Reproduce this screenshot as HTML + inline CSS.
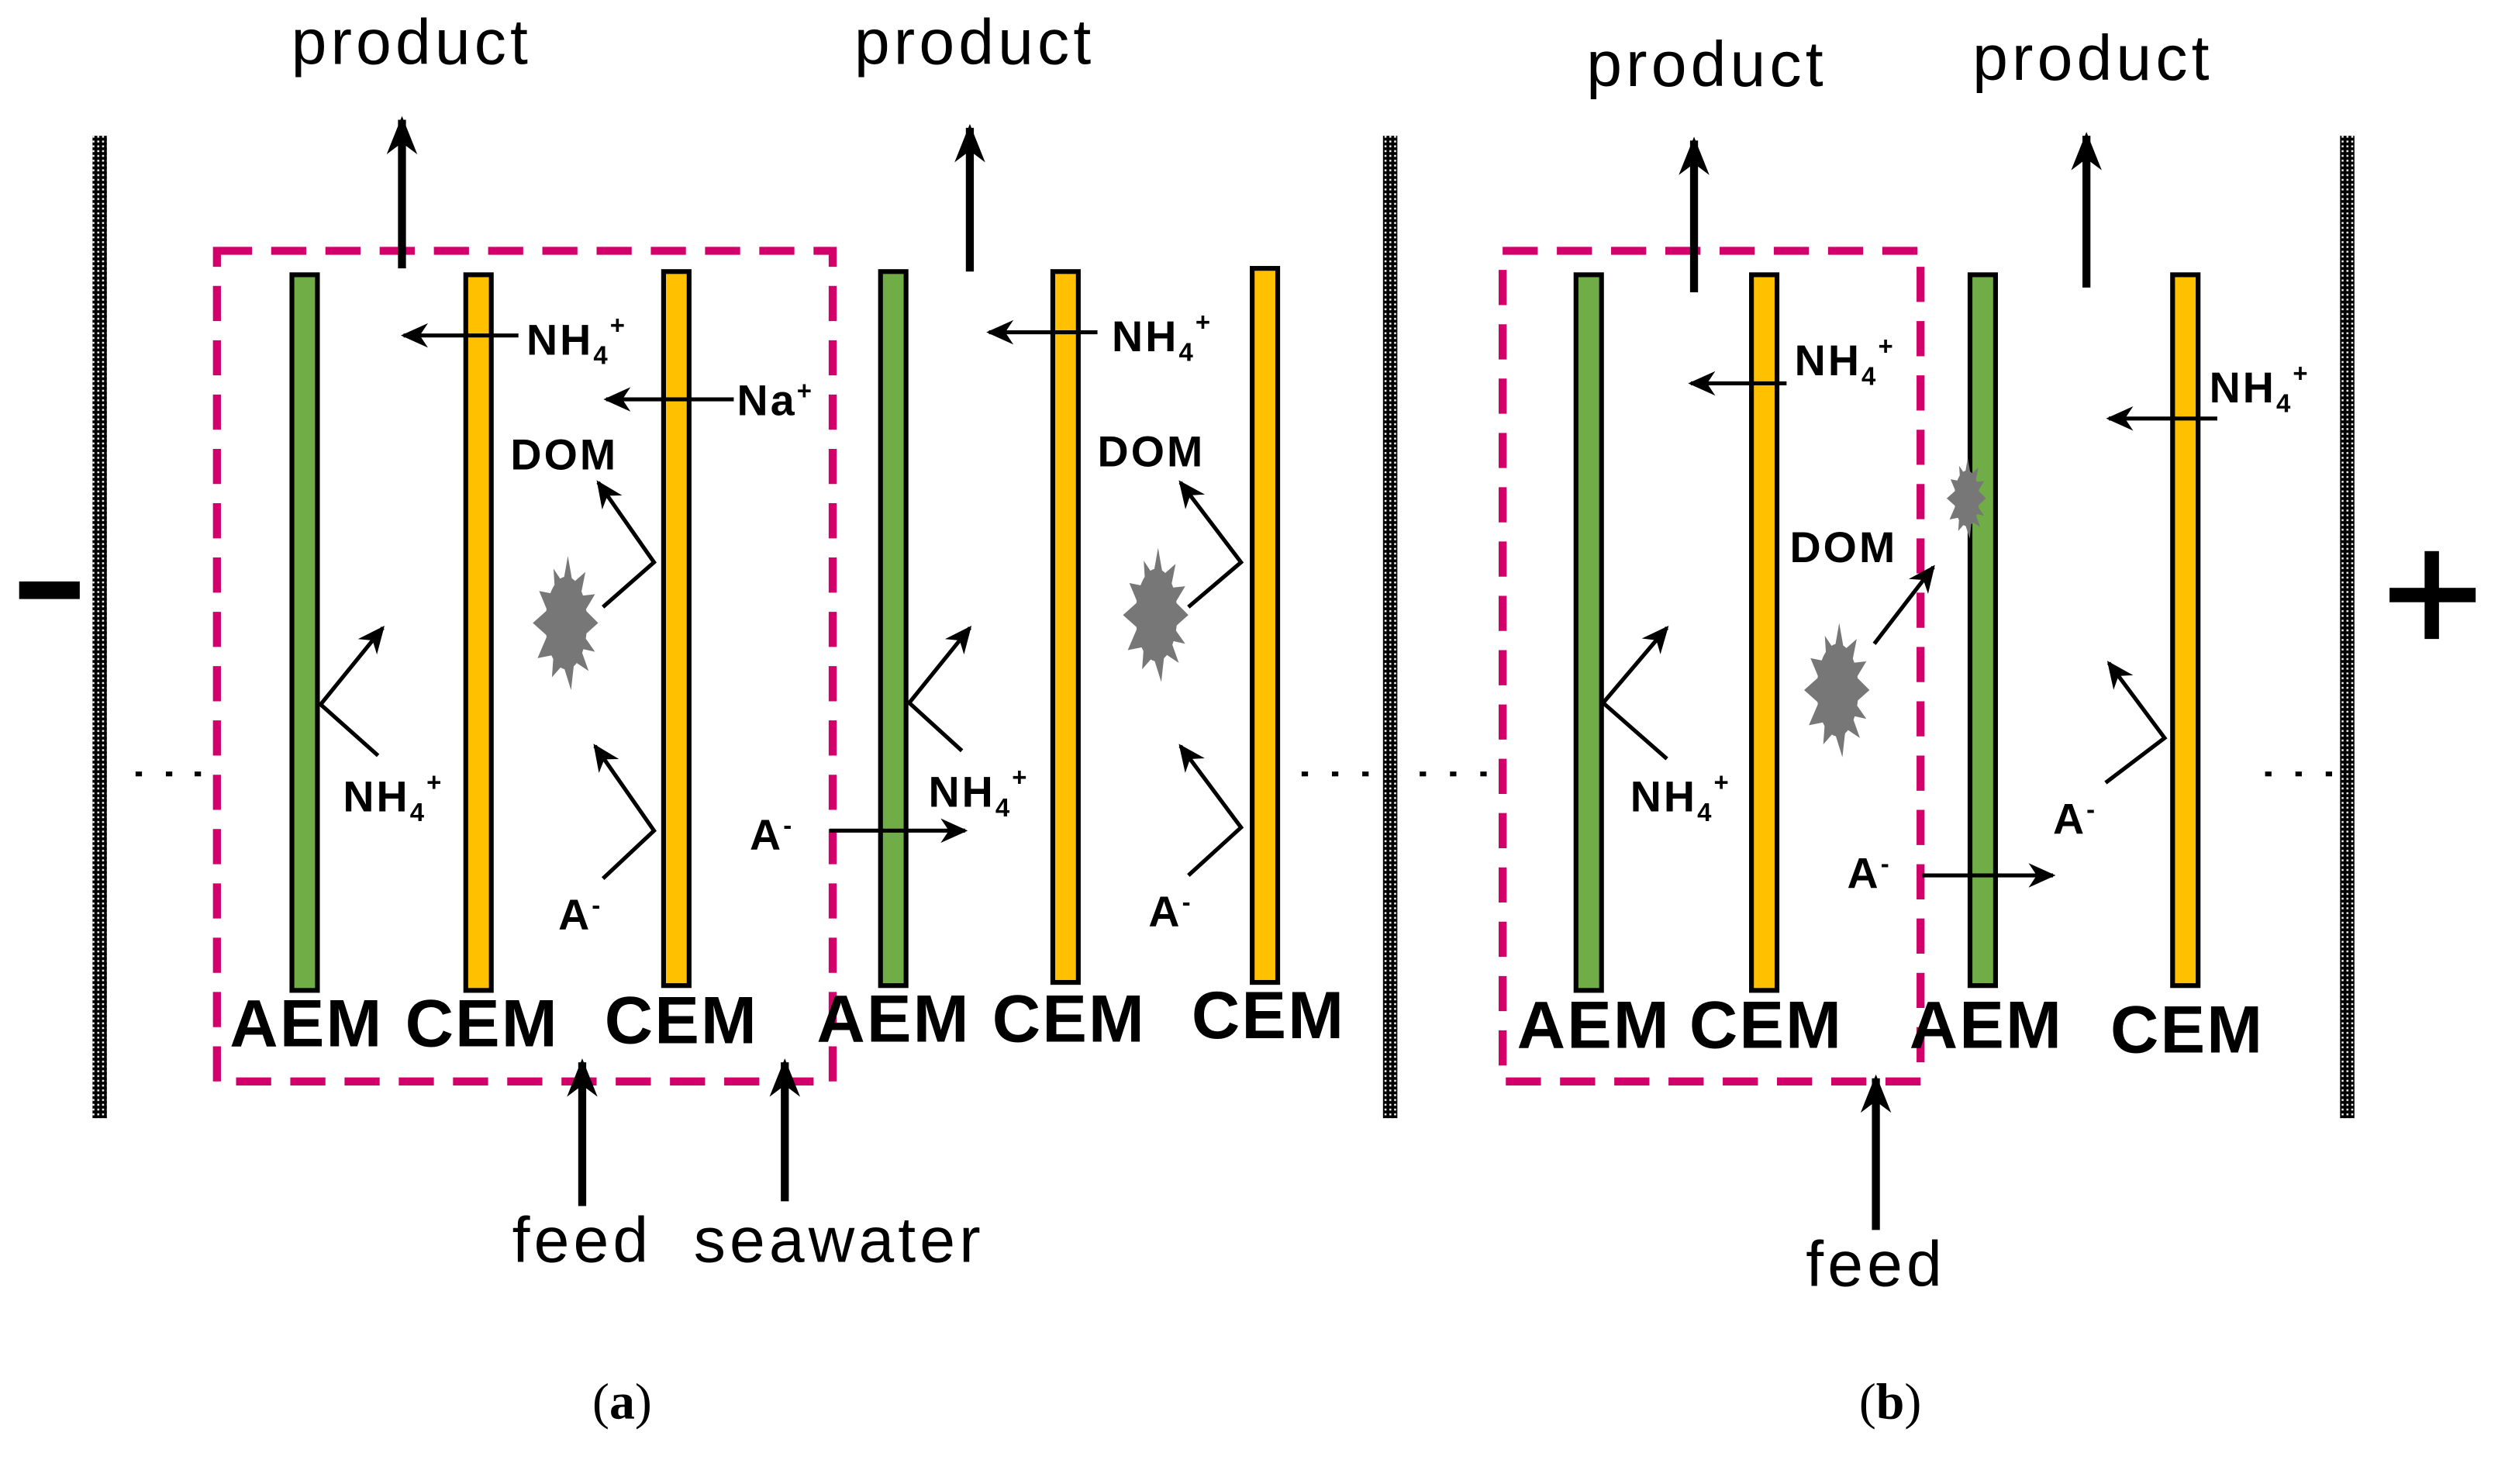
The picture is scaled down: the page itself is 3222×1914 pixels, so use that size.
<!DOCTYPE html>
<html><head><meta charset="utf-8"><style>
html,body{margin:0;padding:0;background:#fff;}
svg{display:block;}
text{font-family:"Liberation Sans",sans-serif;fill:#000;}
.lb{font-weight:bold;font-size:27px;letter-spacing:1.5px;}
.mem{font-weight:bold;font-size:42px;letter-spacing:1px;}
.big{font-size:40px;letter-spacing:2.5px;}
</style></head><body>
<svg width="3222" height="1914" viewBox="0 0 1566 929" preserveAspectRatio="none" xmlns="http://www.w3.org/2000/svg">
<defs>
<pattern id="chk" width="3" height="3" patternUnits="userSpaceOnUse">
<rect width="3" height="3" fill="#000"/><rect x="1" y="1" width="1.2" height="1.2" fill="#fff"/>
</pattern>
<marker id="ah" viewBox="0 0 10 10" refX="9" refY="5" markerWidth="17" markerHeight="17" markerUnits="userSpaceOnUse" orient="auto">
<path d="M0,0.5 L10,5 L0,9.5 L3,5 Z" fill="#000"/></marker>
<marker id="ahs" viewBox="0 0 10 10" refX="9" refY="5" markerWidth="24" markerHeight="24" markerUnits="userSpaceOnUse" orient="auto">
<path d="M0,1 L10,5 L0,9 L3,5 Z" fill="#000"/></marker>
<g id="blob" fill="#777">
<polygon points="20,0 11,8 18,18 9,16 14,30 5,24 3,42 -2,26 -9,34 -8,20 -18,22 -12,8 -21,0 -12,-8 -17,-20 -7,-18 -8,-34 -2,-25 1,-42 4,-25 12,-32 9,-17 18,-18 12,-8"/>
<ellipse rx="13" ry="29"/>
</g>
</defs>

<rect x="58" y="85" width="9" height="615" fill="url(#chk)"/>
<rect x="867" y="85" width="9" height="615" fill="url(#chk)"/>
<rect x="1467" y="85" width="9" height="615" fill="url(#chk)"/>
<rect x="12" y="364" width="38" height="11" fill="#000"/>
<rect x="1498" y="368" width="54" height="9" fill="#000"/>
<rect x="1520" y="345" width="9" height="55" fill="#000"/>

<rect x="136" y="157" width="386" height="520" fill="none" stroke="#d1006b" stroke-width="5" stroke-dasharray="22,12"/>
<rect x="942" y="157" width="262" height="520" fill="none" stroke="#d1006b" stroke-width="5" stroke-dasharray="22,12"/>

<g stroke="#000" stroke-width="3">
<rect x="183" y="172" width="16" height="448" fill="#70ad47"/>
<rect x="292" y="172" width="16" height="448" fill="#ffc000"/>
<rect x="416" y="170" width="16" height="447" fill="#ffc000"/>
<rect x="552" y="170" width="16" height="447" fill="#70ad47"/>
<rect x="660" y="170" width="16" height="445" fill="#ffc000"/>
<rect x="785" y="168" width="16" height="447" fill="#ffc000"/>
<rect x="988" y="172" width="16" height="448" fill="#70ad47"/>
<rect x="1098" y="172" width="16" height="448" fill="#ffc000"/>
<rect x="1235" y="172" width="16" height="445" fill="#70ad47"/>
<rect x="1362" y="172" width="16" height="445" fill="#ffc000"/>
</g>

<use href="#blob" transform="translate(355,390)"/>
<use href="#blob" transform="translate(725,385)"/>
<use href="#blob" transform="translate(1152,432)"/>
<use href="#blob" transform="translate(1233,312) scale(0.6)"/>

<g stroke="#000" stroke-width="5" marker-end="url(#ahs)">
<line x1="252" y1="168" x2="252" y2="75"/>
<line x1="608" y1="170" x2="608" y2="80"/>
<line x1="1062" y1="183" x2="1062" y2="88"/>
<line x1="1308" y1="180" x2="1308" y2="85"/>
<line x1="365" y1="755" x2="365" y2="665"/>
<line x1="492" y1="752" x2="492" y2="665"/>
<line x1="1176" y1="770" x2="1176" y2="675"/>
</g>

<g stroke="#000" stroke-width="2.5" fill="none" marker-end="url(#ah)">
<line x1="325" y1="210" x2="253" y2="210"/>
<line x1="460" y1="250" x2="380" y2="250"/>
<polyline points="237,473 201,441 240,393"/>
<polyline points="378,380 410,352 375,302"/>
<polyline points="378,550 410,520 373,467"/>
<line x1="520" y1="520" x2="605" y2="520"/>
<line x1="688" y1="208" x2="620" y2="208"/>
<polyline points="603,470 570,440 608,393"/>
<polyline points="745,380 778,352 740,302"/>
<polyline points="745,548 778,518 740,467"/>
<line x1="1120" y1="240" x2="1060" y2="240"/>
<polyline points="1045,475 1005,440 1045,393"/>
<line x1="1175" y1="403" x2="1212" y2="355"/>
<line x1="1205" y1="548" x2="1287" y2="548"/>
<polyline points="1320,490 1357,462 1322,415"/>
<line x1="1390" y1="262" x2="1322" y2="262"/>
</g>

<g fill="#000">
<rect x="85" y="483" width="4" height="3"/><rect x="104" y="483" width="4" height="3"/><rect x="122" y="483" width="4" height="3"/>
<rect x="816" y="483" width="4" height="3"/><rect x="835" y="483" width="4" height="3"/><rect x="854" y="483" width="4" height="3"/>
<rect x="890" y="483" width="4" height="3"/><rect x="909" y="483" width="4" height="3"/><rect x="928" y="483" width="4" height="3"/>
<rect x="1420" y="483" width="4" height="3"/><rect x="1439" y="483" width="4" height="3"/><rect x="1458" y="483" width="4" height="3"/>
</g>

<g class="big">
<text x="258" y="40" text-anchor="middle">product</text>
<text x="611" y="40" text-anchor="middle">product</text>
<text x="1070" y="54" text-anchor="middle">product</text>
<text x="1312" y="50" text-anchor="middle">product</text>
<text x="365" y="790" text-anchor="middle">feed</text>
<text x="526" y="790" text-anchor="middle">seawater</text>
<text x="1176" y="805" text-anchor="middle">feed</text>
</g>
<text x="390" y="888" text-anchor="middle" style="font-family:'Liberation Serif',serif;font-size:32px;">(<tspan font-weight="bold">a</tspan>)</text>
<text x="1185" y="888" text-anchor="middle" style="font-family:'Liberation Serif',serif;font-size:32px;">(<tspan font-weight="bold">b</tspan>)</text>

<g class="mem">
<text x="144" y="655">AEM</text><text x="254" y="655">CEM</text><text x="379" y="653">CEM</text>
<text x="512" y="652">AEM</text><text x="622" y="652">CEM</text><text x="747" y="650">CEM</text>
<text x="951" y="656">AEM</text><text x="1059" y="656">CEM</text><text x="1197" y="656">AEM</text><text x="1323" y="659">CEM</text>
</g>

<g class="lb">
<text x="330" y="222">NH<tspan font-size="16" dy="6">4</tspan><tspan font-size="16" dy="-19">+</tspan></text>
<text x="462" y="260">Na<tspan font-size="16" dy="-10">+</tspan></text>
<text x="320" y="294">DOM</text>
<text x="215" y="508">NH<tspan font-size="16" dy="6">4</tspan><tspan font-size="16" dy="-19">+</tspan></text>
<text x="350" y="582">A<tspan font-size="16" dy="-10">-</tspan></text>
<text x="470" y="532">A<tspan font-size="16" dy="-10">-</tspan></text>
<text x="697" y="220">NH<tspan font-size="16" dy="6">4</tspan><tspan font-size="16" dy="-19">+</tspan></text>
<text x="688" y="292">DOM</text>
<text x="582" y="505">NH<tspan font-size="16" dy="6">4</tspan><tspan font-size="16" dy="-19">+</tspan></text>
<text x="720" y="580">A<tspan font-size="16" dy="-10">-</tspan></text>
<text x="1125" y="235">NH<tspan font-size="16" dy="6">4</tspan><tspan font-size="16" dy="-19">+</tspan></text>
<text x="1122" y="352">DOM</text>
<text x="1022" y="508">NH<tspan font-size="16" dy="6">4</tspan><tspan font-size="16" dy="-19">+</tspan></text>
<text x="1158" y="556">A<tspan font-size="16" dy="-10">-</tspan></text>
<text x="1287" y="522">A<tspan font-size="16" dy="-10">-</tspan></text>
<text x="1385" y="252">NH<tspan font-size="16" dy="6">4</tspan><tspan font-size="16" dy="-19">+</tspan></text>
</g>
</svg>
</body></html>
